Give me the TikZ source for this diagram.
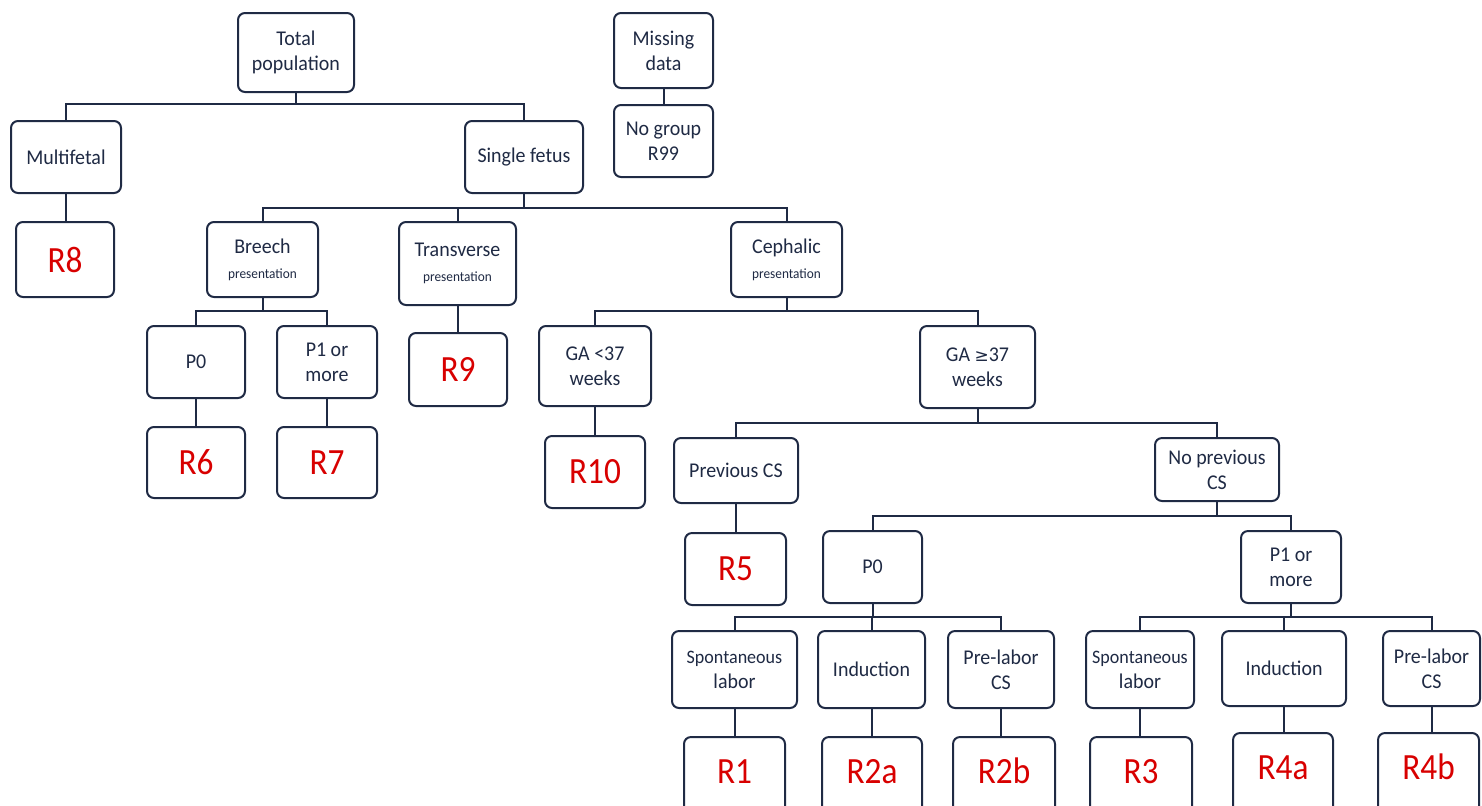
\documentclass[tikz,border=0pt]{standalone}
\usepackage{fontspec}
\setmainfont{Carlito}[FakeStretch=0.95]
\newfontfamily\redf{Carlito}[FakeStretch=0.9]
\newfontfamily\sym{DejaVu Sans}
\definecolor{navy}{HTML}{1F2A44}
\definecolor{rred}{HTML}{D80000}
\tikzset{
  x=0.5pt,y=-0.5pt,
  box/.style={draw=navy, line width=1pt, rounded corners=3.5pt, inner sep=0pt, align=center, text=navy, font=\fontsize{10.5}{12.5}\selectfont},
  rbox/.style={box, text=rred, font=\redf\fontsize{18.5}{20}\selectfont},
  rboxlow/.style={rbox, text height=12pt, text depth=17.5pt},
  rboxlower/.style={rbox, text height=12pt, text depth=19pt},
  conn/.style={draw=navy, line width=1pt}
}
\newcommand\bx[7]{\node[#1, minimum width={(#5-#3)*0.5pt}, minimum height={(#6-#4)*0.5pt}] (#2) at ({(#3+#5)/2},{(#4+#6)/2}) {#7};}
\newcommand\sm[1]{{\fontsize{7}{9}\selectfont #1}}
\begin{document}
\begin{tikzpicture}
\path[use as bounding box, fill=white] (0,0) rectangle (1482,805);
\clip (0,0) rectangle (1482,805);
% boxes
\bx{box}{tp}{238}{13}{354}{92}{Total\\population}
\bx{box}{md}{614}{13}{713}{88}{Missing\\data}
\bx{box}{ng}{614}{105}{713}{177}{No group\\R99}
\bx{box}{mf}{11}{121}{121}{193}{Multifetal}
\bx{box}{sf}{465}{121}{583}{193}{Single fetus}
\bx{rbox}{r8}{16}{222}{114}{297}{R8}
\bx{box}{br}{207}{222}{318}{297}{Breech\\\sm{presentation}}
\bx{box}{tr}{399}{222}{516}{305}{Transverse\\\sm{presentation}}
\bx{box}{ce}{731}{222}{842}{297}{Cephalic\\\sm{presentation}}
\bx{box}{p0a}{147}{326}{245}{398}{P0}
\bx{box}{p1a}{277}{326}{377}{398}{P1 or\\more}
\bx{rbox}{r9}{409}{333}{507}{406}{R9}
\bx{box}{ga1}{539}{326}{651}{406}{GA <37\\weeks}
\bx{box}{ga2}{920}{326}{1035}{408}{GA {\sym\fontsize{8.5}{12.5}\selectfont ≥}37\\weeks}
\bx{rbox}{r6}{147}{427}{245}{498}{R6}
\bx{rbox}{r7}{277}{427}{377}{498}{R7}
\bx{rbox}{r10}{545}{436}{645}{508}{R10}
\bx{box}{pcs}{674}{438}{798}{503}{Previous CS}
\bx{box}{npcs}{1155}{438}{1279}{501}{No previous\\CS}
\bx{rbox}{r5}{685}{533}{786}{605}{R5}
\bx{box}{p0b}{823}{531}{922}{603}{P0}
\bx{box}{p1b}{1241}{531}{1341}{603}{P1 or\\more}
\bx{box}{sl1}{672}{631}{797}{708}{\fontsize{9.5}{12.5}\selectfont Spontaneous\\labor}
\bx{box}{in1}{818}{631}{925}{708}{Induction}
\bx{box}{pl1}{948}{631}{1054}{708}{Pre-labor\\CS}
\bx{box}{sl2}{1086}{631}{1194}{708}{\fontsize{9.5}{12.5}\selectfont Spontaneous\\labor}
\bx{box}{in2}{1222}{631}{1346}{706}{Induction}
\bx{box}{pl2}{1383}{631}{1480}{706}{Pre-labor\\CS}
\bx{rboxlow}{r1}{684}{737}{785}{840}{R1}
\bx{rboxlow}{r2a}{822}{737}{922}{840}{R2a}
\bx{rboxlow}{r2b}{953}{737}{1055}{840}{R2b}
\bx{rboxlow}{r3}{1090}{737}{1192}{840}{R3}
\bx{rboxlower}{r4a}{1233}{733}{1333}{840}{R4a}
\bx{rboxlower}{r4b}{1378}{733}{1479}{840}{R4b}
% tree connectors
\foreach \p/\Y/\cs in {tp/104/{mf,sf}, sf/208/{br,tr,ce}, br/311/{p0a,p1a}, ce/311/{ga1,ga2}, ga2/423/{pcs,npcs}, npcs/516/{p0b,p1b}, p0b/617/{sl1,in1,pl1}, p1b/617/{sl2,in2,pl2}}{
  \draw[conn] (\p.south) -- (\p.south |- 0,\Y);
  \foreach \c in \cs { \draw[conn] (\p.south |- 0,\Y) -| (\c.north); }
}
% single connectors
\foreach \a/\b in {md/ng, mf/r8, tr/r9, p0a/r6, p1a/r7, ga1/r10, pcs/r5, sl1/r1, in1/r2a, pl1/r2b, sl2/r3, in2/r4a, pl2/r4b}{
  \draw[conn] (\a.south) -- (\a.south |- \b.north);
}
\end{tikzpicture}
\end{document}
